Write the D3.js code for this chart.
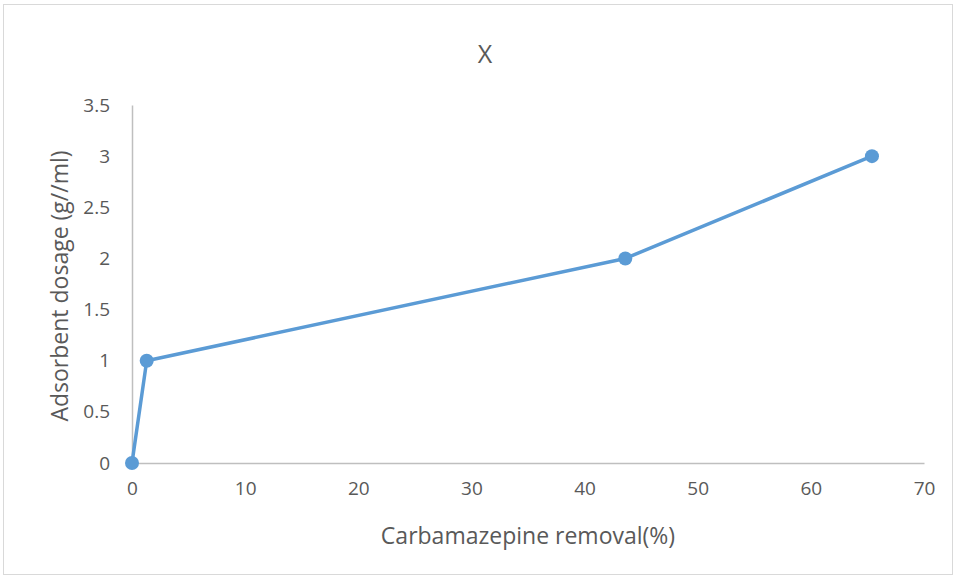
<!DOCTYPE html>
<html>
<head>
<meta charset="utf-8">
<script src="https://cdn.jsdelivr.net/npm/d3@7"></script>
<style>
  body { margin: 0; background: #fff; }
  text { font-family: "Open Sans", sans-serif; fill: #595959; }
</style>
</head>
<body>
<svg class="removal-chart"></svg>
<script>
var removal = [0, 1.3, 43.6, 65.4];
var dosage = [0, 1, 2, 3];
var xTicks = [0, 10, 20, 30, 40, 50, 60, 70];
var yTicks = [0, 0.5, 1, 1.5, 2, 2.5, 3, 3.5];

var W = 955, H = 577;
var margin = {top: 105, right: 31, bottom: 114, left: 132};
var width = W - margin.left - margin.right;
var height = H - margin.top - margin.bottom;

var svg = d3.select(".removal-chart")
  .attr("width", W)
  .attr("height", H);

svg.append("rect")
  .attr("x", 3.5).attr("y", 4.5)
  .attr("width", W - 6).attr("height", H - 7)
  .attr("fill", "#fff")
  .attr("stroke", "#d9d9d9");

var x = d3.scaleLinear().domain([0, 70]).range([0, width]);
var y = d3.scaleLinear().domain([0, 3.5]).range([height, 0]);

var chart = svg.append("g")
  .attr("transform", "translate(" + margin.left + "," + margin.top + ")");

var xAxis = chart.append("g")
  .attr("transform", "translate(0," + height + ")")
  .call(d3.axisBottom(x).tickValues(xTicks).tickSize(0).tickPadding(19));
xAxis.select(".domain").attr("stroke", "#bfbfbf").attr("stroke-width", 1.5);
xAxis.selectAll("text").style("font-size", "19px").attr("fill", "#595959");

var yAxis = chart.append("g")
  .call(d3.axisLeft(y).tickValues(yTicks).tickFormat(d3.format("")).tickSize(0).tickPadding(22));
yAxis.select(".domain").attr("stroke", "#bfbfbf").attr("stroke-width", 1.5);
yAxis.selectAll("text").style("font-size", "19px").attr("fill", "#595959");

var data = removal.map(function(d, i) { return {x: d, y: dosage[i]}; });

var valueline = d3.line()
  .x(function(d) { return x(d.x); })
  .y(function(d) { return y(d.y); });

chart.append("path")
  .datum(data)
  .attr("fill", "none")
  .attr("stroke", "#5B9BD5")
  .attr("stroke-width", 3.5)
  .attr("stroke-linejoin", "round")
  .attr("d", valueline);

chart.selectAll(".dot")
  .data(data)
  .enter().append("circle")
  .attr("class", "dot")
  .attr("cx", function(d) { return x(d.x); })
  .attr("cy", function(d) { return y(d.y); })
  .attr("r", 7)
  .attr("fill", "#5B9BD5");

svg.append("text")
  .attr("x", 485).attr("y", 63)
  .attr("text-anchor", "middle")
  .style("font-size", "25px")
  .text("X");

svg.append("text")
  .attr("transform", "translate(68," + (margin.top + height / 2 + 2) + ") rotate(-90)")
  .attr("text-anchor", "middle")
  .style("font-size", "23px")
  .text("Adsorbent dosage (g//ml)");

svg.append("text")
  .attr("x", 528).attr("y", 544)
  .attr("text-anchor", "middle")
  .style("font-size", "23px")
  .text("Carbamazepine removal(%)");
</script>
</body>
</html>
